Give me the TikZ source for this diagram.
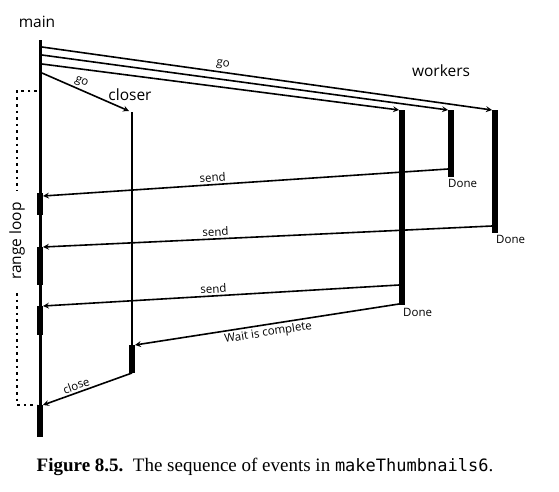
\documentclass[tikz,border=0pt]{standalone}
\usepackage{fontspec}
\setmainfont{Liberation Serif}
\setsansfont{Open Sans}
\setmonofont{DejaVu Sans Mono}
\begin{document}
\begin{tikzpicture}[x=1pt,y=-1pt,>=stealth,
  head/.style={font=\sffamily\fontsize{15.5}{17}\selectfont},
  lbl/.style={font=\sffamily\fontsize{11.5}{13}\selectfont,inner sep=2pt},
  life/.style={line width=3pt},
  active/.style={line width=5.5pt},
  msg/.style={line width=1.6pt,->}]
  \useasboundingbox (0,0) rectangle (559,491);
  % lifelines
  \coordinate (mtop) at (40,40);   \coordinate (mbot) at (40,437);
  \coordinate (ctop) at (132,112); \coordinate (cbot) at (132,373);
  \coordinate (w1top) at (402,110); \coordinate (w1bot) at (402,305);
  \coordinate (w2top) at (451,110); \coordinate (w2bot) at (451,177);
  \coordinate (w3top) at (495,110); \coordinate (w3bot) at (495,233);
  \draw[life] (mtop) -- (mbot);
  \foreach \a/\b in {193/215,247/285,306/335,405/437} \draw[active] (40,\a) -- (40,\b);
  \draw[line width=1.5pt] (ctop) -- (cbot);
  \draw[active] (132,345) -- (cbot);
  \foreach \w in {w1,w2,w3} \draw[active] (\w top) -- (\w bot);
  % labels
  \node[head] (main) at (37,22) {main};
  \node[head] (closer) at (130,95) {closer};
  \node[head] (workers) at (441,71) {workers};
  \node[lbl,anchor=north west] (done1) at (401,306) {Done};
  \node[lbl,anchor=north west] (done2) at (446,177) {Done};
  \node[lbl,anchor=north west] (done3) at (494,233) {Done};
  % go
  \coordinate (g1) at (42,47);  \coordinate (g2) at (42,55);
  \coordinate (g3) at (42,64);  \coordinate (g4) at (42,73);
  \draw[msg] (g1) -- node[lbl,pos=0.4,above,sloped] {go} (492,110);
  \draw[msg] (g2) -- (448,110);
  \draw[msg] (g3) -- (399,110);
  \draw[msg] (g4) -- node[lbl,pos=0.42,above,sloped] {go} (129,111);
  % send
  \draw[msg] (448,169) -- node[lbl,pos=0.58,above,sloped] {send} (43,196);
  \draw[msg] (492,226) -- node[lbl,pos=0.615,above,sloped] {send} (43,247);
  \draw[msg] (399,285) -- node[lbl,pos=0.52,above,sloped] {send} (43,306);
  \draw[msg] (399,304) -- node[lbl,pos=0.5,below,sloped] {Wait is complete} (135,345);
  \draw[msg] (cbot) -- node[lbl,pos=0.6,above,sloped] {close} (43,405);
  % range loop
  \node[head,rotate=90] (loop) at (17,241) {range loop};
  \draw[line width=2.6pt,dash pattern=on 2.6pt off 4pt] (37,91) -- (17,91) -- (17,190);
  \draw[line width=2.6pt,dash pattern=on 2.6pt off 4pt] (17,293) -- (17,405) -- (37,405);
  % caption
  \node[font=\fontsize{19}{21}\selectfont] (cap) at (265,467)
    {\textbf{Figure 8.5.}\ \ The sequence of events in {\ttfamily\fontsize{17}{21}\selectfont makeThumbnails6}.};
\end{tikzpicture}
\end{document}
